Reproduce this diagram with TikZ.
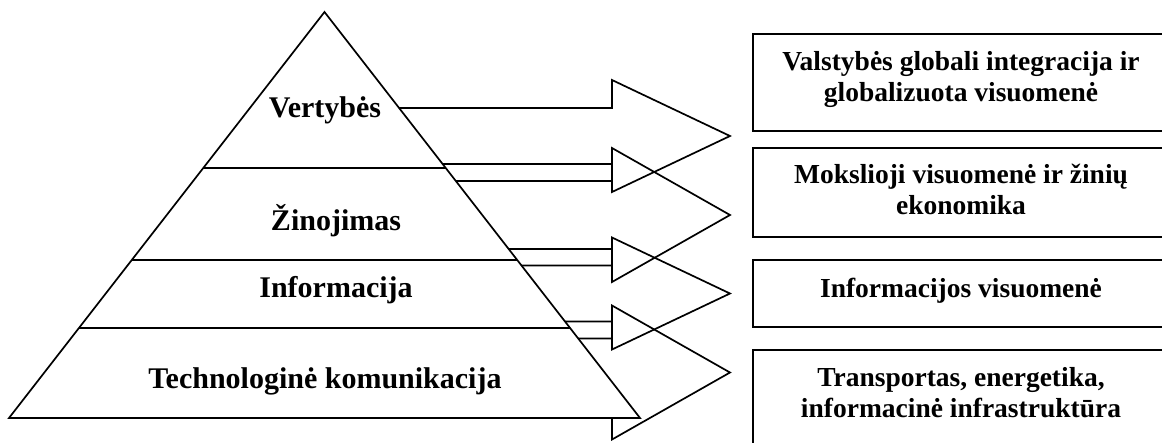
\documentclass[tikz,border=0pt]{standalone}
\usepackage{fontspec}
\setmainfont{Liberation Serif}
\usetikzlibrary{calc}
\tikzset{
    block/.style={line width=1.7pt, line join=miter},
    layer/.style={font=\bfseries\fontsize{30}{34}\selectfont, anchor=base},
    goal/.style={draw, line width=1.7pt, minimum width=416pt, inner sep=0pt},
    goaltext/.style={font=\bfseries\fontsize{27.5}{31}\selectfont, align=center},
}

\begin{document}
\begin{tikzpicture}[x=1pt,y=-1pt]
\clip (0,0) rectangle (1162,442);
% block arrows, their tails go under the pyramid
\foreach \c/\s/\h in {136/28/56, 215/34/67, 293.5/28/56, 372.5/34/67}
    \draw[block] (330,{\c-\s}) -- (612,{\c-\s}) -- (612,{\c-\h}) -- (730,\c)
        -- (612,{\c+\h}) -- (612,{\c+\s}) -- (330,{\c+\s});

% pyramid
\coordinate (top) at (324.5,12);
\coordinate (bl) at (9,418);
\coordinate (br) at (640,418);
\draw[block, fill=white] (top) -- (bl) -- (br) -- cycle;
\foreach \t in {0.3842,0.6108,0.7783}
    \draw[block] ($(top)!\t!(bl)$) -- ($(top)!\t!(br)$);

\node[layer] (vert) at (325,117) {Vertybės};
\node[layer] (zin) at (336,230) {Žinojimas};
\node[layer] (info) at (336,297) {Informacija};
\node[layer] (tech) at (325,388) {Technologinė komunikacija};

% goals
\node[goal, minimum height=97pt] (g1) at (961,82.5) {};
\node[goal, minimum height=89pt] (g2) at (961,192.5) {};
\node[goal, minimum height=67pt] (g3) at (961,293.5) {};
\node[goal, minimum height=120pt] (g4) at (961,410) {};

\node[goaltext] (t1) at (961,79) {Valstybės globali integracija ir\\globalizuota visuomenė};
\node[goaltext] (t2) at (961,189.5) {Mokslioji visuomenė ir žinių\\ekonomika};
\node[goaltext, anchor=base] (t3) at (961,297) {Informacijos visuomenė};
\node[goaltext] (t4) at (961,393) {Transportas, energetika,\\informacinė infrastruktūra};
\end{tikzpicture}
\end{document}
